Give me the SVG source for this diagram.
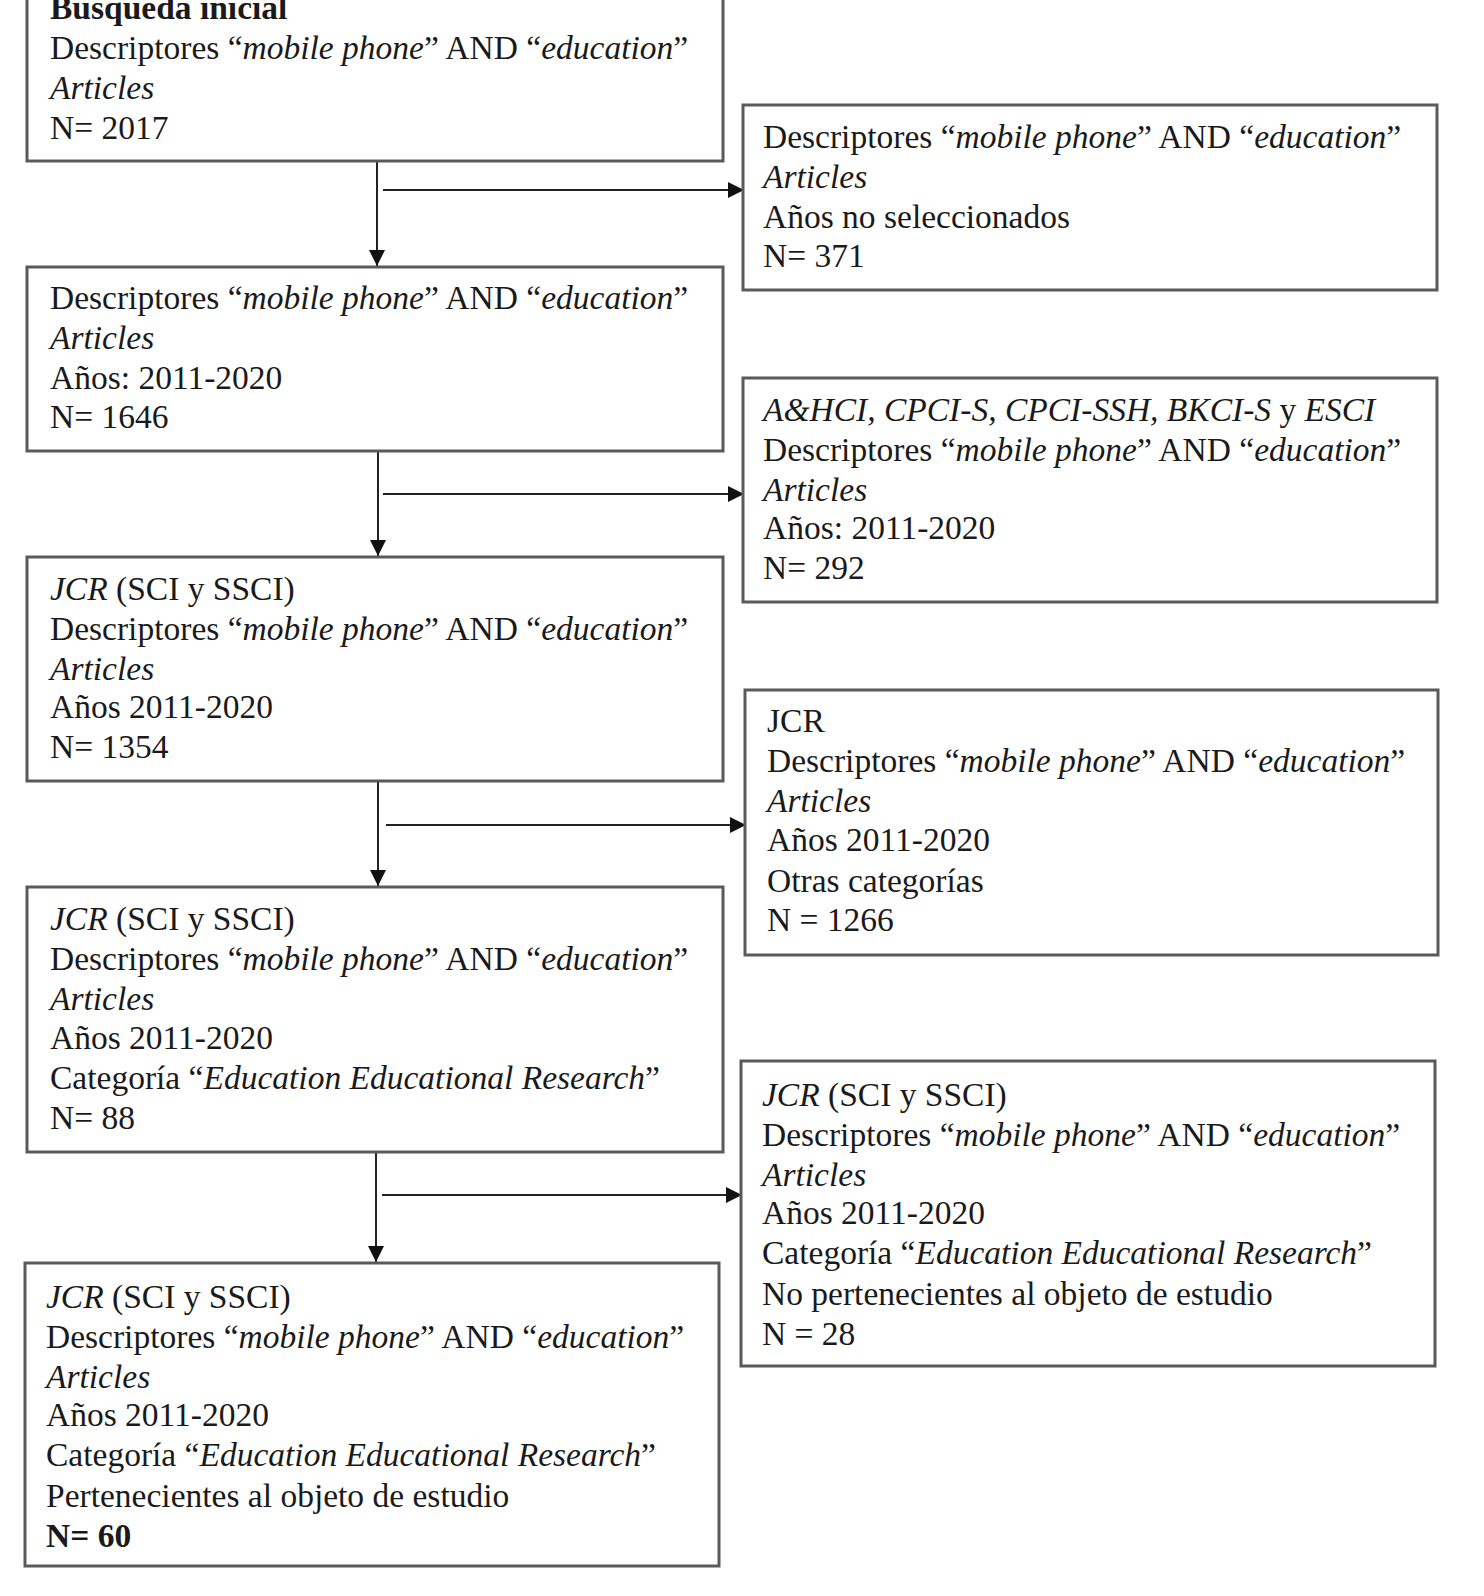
<svg xmlns="http://www.w3.org/2000/svg" width="1484" height="1596" viewBox="0 0 1484 1596">
<style>
.box{fill:#fff;stroke:#5a5a5a;stroke-width:3}
text{font-family:"Liberation Serif","Times New Roman",serif;font-size:33.5px;fill:#1a1a1a}
.i{font-style:italic}
.b{font-weight:bold}
.c{stroke:#222;stroke-width:2;fill:none}
</style>
<defs>
<marker id="ah" viewBox="0 0 10 10" refX="10" refY="5" markerWidth="8" markerHeight="8.5" markerUnits="strokeWidth" orient="auto">
<path d="M0,0 L10,5 L0,10 z" fill="#111"/>
</marker>
</defs>
<rect width="1484" height="1596" fill="#fff"/>
<g id="connectors">
<line class="c" x1="377" y1="161" x2="377" y2="266" marker-end="url(#ah)"/>
<line class="c" x1="383" y1="190" x2="744" y2="190" marker-end="url(#ah)"/>
<line class="c" x1="378" y1="451" x2="378" y2="556" marker-end="url(#ah)"/>
<line class="c" x1="383" y1="494" x2="744" y2="494" marker-end="url(#ah)"/>
<line class="c" x1="378" y1="781" x2="378" y2="886" marker-end="url(#ah)"/>
<line class="c" x1="386" y1="825" x2="746" y2="825" marker-end="url(#ah)"/>
<line class="c" x1="376" y1="1152" x2="376" y2="1262" marker-end="url(#ah)"/>
<line class="c" x1="382" y1="1195" x2="742" y2="1195" marker-end="url(#ah)"/>
</g>
<g id="n1">
<rect class="box" x="27" y="-10" width="696" height="171"/>
<text x="50" y="19" class="b">Búsqueda inicial</text>
<text x="50" y="59">Descriptores “<tspan class="i">mobile phone</tspan>” AND “<tspan class="i">education</tspan>”</text>
<text x="50" y="99" class="i">Articles</text>
<text x="50" y="139">N= 2017</text>
</g>
<g id="r1">
<rect class="box" x="743" y="105" width="694" height="185"/>
<text x="763" y="148">Descriptores “<tspan class="i">mobile phone</tspan>” AND “<tspan class="i">education</tspan>”</text>
<text x="763" y="188" class="i">Articles</text>
<text x="763" y="228">Años no seleccionados</text>
<text x="763" y="267">N= 371</text>
</g>
<g id="n2">
<rect class="box" x="27" y="267" width="696" height="184"/>
<text x="50" y="309">Descriptores “<tspan class="i">mobile phone</tspan>” AND “<tspan class="i">education</tspan>”</text>
<text x="50" y="349" class="i">Articles</text>
<text x="50" y="389">Años: 2011-2020</text>
<text x="50" y="428">N= 1646</text>
</g>
<g id="r2">
<rect class="box" x="743" y="378" width="694" height="224"/>
<text x="763" y="421" class="i">A&amp;HCI, CPCI-S, CPCI-SSH, BKCI-S <tspan font-style="normal">y</tspan> ESCI</text>
<text x="763" y="461">Descriptores “<tspan class="i">mobile phone</tspan>” AND “<tspan class="i">education</tspan>”</text>
<text x="763" y="501" class="i">Articles</text>
<text x="763" y="539">Años: 2011-2020</text>
<text x="763" y="579">N= 292</text>
</g>
<g id="n3">
<rect class="box" x="27" y="557" width="696" height="224"/>
<text x="50" y="600"><tspan class="i">JCR</tspan> (SCI y SSCI)</text>
<text x="50" y="640">Descriptores “<tspan class="i">mobile phone</tspan>” AND “<tspan class="i">education</tspan>”</text>
<text x="50" y="680" class="i">Articles</text>
<text x="50" y="718">Años 2011-2020</text>
<text x="50" y="758">N= 1354</text>
</g>
<g id="r3">
<rect class="box" x="745" y="690" width="693" height="265"/>
<text x="767" y="732">JCR</text>
<text x="767" y="772">Descriptores “<tspan class="i">mobile phone</tspan>” AND “<tspan class="i">education</tspan>”</text>
<text x="767" y="812" class="i">Articles</text>
<text x="767" y="851">Años 2011-2020</text>
<text x="767" y="892">Otras categorías</text>
<text x="767" y="931">N = 1266</text>
</g>
<g id="n4">
<rect class="box" x="27" y="887" width="696" height="265"/>
<text x="50" y="930"><tspan class="i">JCR</tspan> (SCI y SSCI)</text>
<text x="50" y="970">Descriptores “<tspan class="i">mobile phone</tspan>” AND “<tspan class="i">education</tspan>”</text>
<text x="50" y="1010" class="i">Articles</text>
<text x="50" y="1049">Años 2011-2020</text>
<text x="50" y="1089">Categoría “<tspan class="i">Education Educational Research</tspan>”</text>
<text x="50" y="1129">N= 88</text>
</g>
<g id="r4">
<rect class="box" x="741" y="1061" width="694" height="305"/>
<text x="762" y="1106"><tspan class="i">JCR</tspan> (SCI y SSCI)</text>
<text x="762" y="1146">Descriptores “<tspan class="i">mobile phone</tspan>” AND “<tspan class="i">education</tspan>”</text>
<text x="762" y="1186" class="i">Articles</text>
<text x="762" y="1224">Años 2011-2020</text>
<text x="762" y="1264">Categoría “<tspan class="i">Education Educational Research</tspan>”</text>
<text x="762" y="1305">No pertenecientes al objeto de estudio</text>
<text x="762" y="1345">N = 28</text>
</g>
<g id="n5">
<rect class="box" x="25" y="1263" width="694" height="303"/>
<text x="46" y="1308"><tspan class="i">JCR</tspan> (SCI y SSCI)</text>
<text x="46" y="1348">Descriptores “<tspan class="i">mobile phone</tspan>” AND “<tspan class="i">education</tspan>”</text>
<text x="46" y="1388" class="i">Articles</text>
<text x="46" y="1426">Años 2011-2020</text>
<text x="46" y="1466">Categoría “<tspan class="i">Education Educational Research</tspan>”</text>
<text x="46" y="1507">Pertenecientes al objeto de estudio</text>
<text x="46" y="1547" class="b">N= 60</text>
</g>
</svg>
